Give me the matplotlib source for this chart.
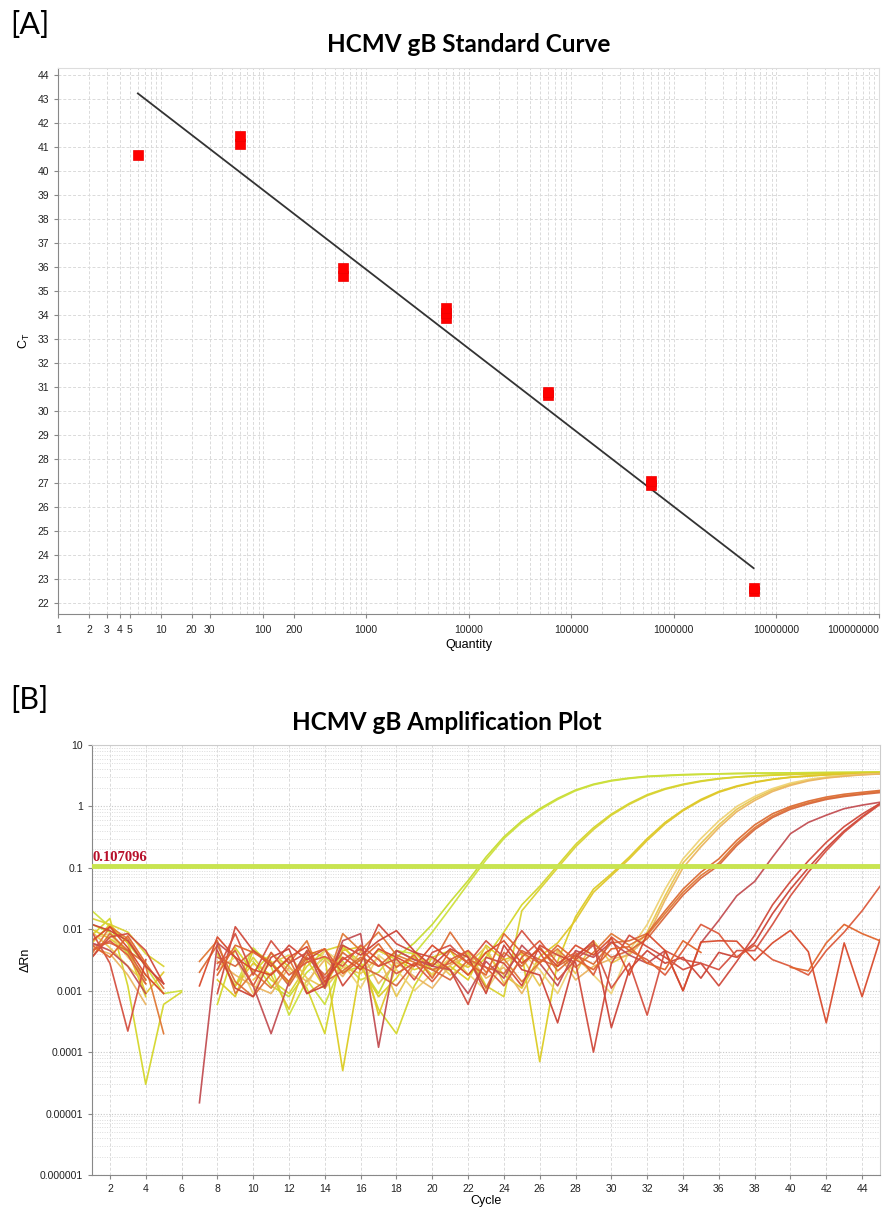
import numpy as np
import matplotlib
matplotlib.use('Agg')
import matplotlib.pyplot as plt
from matplotlib.ticker import FixedLocator, LogLocator, NullFormatter

n = np.nan

# ---- [A] standard curve data ----
std_quantity = [6, 60, 60, 600, 600, 6000, 6000, 6000, 60000, 60000,
                600000, 600000, 6000000, 6000000]
std_ct = [40.67, 41.14, 41.48, 35.64, 35.98, 33.87, 34.08, 34.29, 30.66, 30.80,
          26.92, 27.08, 22.52, 22.65]
fit_quantity = [6, 6000000]
fit_ct = [43.24, 23.46]

x_ticks = [1, 2, 3, 4, 5, 10, 20, 30, 100, 200, 1000, 10000, 100000,
           1000000, 10000000, 100000000]
x_tick_labels = ['1', '2', '3', '4', '5', '10', '20', '30', '100', '200', '1000',
                 '10000', '100000', '1000000', '10000000', '100000000']
y_ticks = list(range(22, 45))

# ---- [B] amplification data (delta Rn per cycle, nan = not plotted) ----
cycles = list(range(1, 46))
threshold = 0.107096

amp_curves = {
    'g1a': [0.012, 0.009, 0.004, 0.0015, n, n, n, n, n, 0.003,
            0.0012, 0.0008, 0.002, 0.0035, 0.002, 0.0025, 0.0009, 0.0035, 0.006, 0.012,
            0.028, 0.062, 0.15, 0.32, 0.58, 0.92, 1.35, 1.85, 2.3, 2.65,
            2.9, 3.1, 3.2, 3.3, 3.35, 3.4, 3.45, 3.48, 3.5, 3.52,
            3.54, 3.56, 3.58, 3.6, 3.62],
    'g1b': [0.02, 0.011, 0.006, 0.0025, 0.0009, 0.001, n, n, 0.0012, 0.005,
            0.0025, 0.0004, 0.0015, 0.0006, 0.003, 0.0015, 0.002, 0.0045, 0.004, 0.009,
            0.022, 0.055, 0.135, 0.3, 0.55, 0.88, 1.3, 1.8, 2.25, 2.6,
            2.85, 3.05, 3.15, 3.25, 3.32, 3.38, 3.42, 3.46, 3.49, 3.52,
            3.54, 3.56, 3.58, 3.6, 3.62],
    'g2a': [0.008, 0.015, 0.0012, 0.00003, 0.0006, 0.00095, n, 0.0006, 0.005, 0.002,
            0.004, 0.0025, 0.0011, 0.0002, 0.005, 0.003, 0.0005, 0.0002, 0.0012, 0.0035,
            0.0045, 0.0018, 0.0035, 0.009, 0.025, 0.05, 0.11, 0.24, 0.45, 0.75,
            1.12, 1.55, 1.95, 2.3, 2.6, 2.85, 3.02, 3.15, 3.25, 3.33,
            3.4, 3.46, 3.5, 3.54, 3.57],
    'g2b': [0.015, 0.012, 0.009, 0.004, 0.0025, n, n, 0.004, 0.0012, 0.0035,
            0.0015, 0.0009, 0.0025, 0.0045, 0.0055, 0.0024, 0.0045, 0.0032, 0.0022, 0.0028,
            0.0021, 0.0042, 0.0012, 0.0008, 0.02, 0.045, 0.1, 0.22, 0.42, 0.72,
            1.08, 1.5, 1.9, 2.25, 2.55, 2.8, 3.0, 3.12, 3.22, 3.3,
            3.38, 3.44, 3.49, 3.53, 3.56],
    'g3a': [0.01, 0.007, 0.0045, 0.0008, n, n, n, 0.0015, 0.0008, 0.0045,
            0.003, 0.0013, 0.0045, 0.0035, 0.00005, 0.0025, 0.0008, 0.0016, 0.0042, 0.0022,
            0.0025, 0.0015, 0.0055, 0.0032, 0.004, 0.00007, 0.003, 0.016, 0.045, 0.08,
            0.15, 0.3, 0.55, 0.88, 1.3, 1.75, 2.15, 2.5, 2.78, 3.0,
            3.15, 3.28, 3.36, 3.42, 3.47],
    'g3b': [0.006, 0.012, 0.006, 0.0009, 0.002, n, n, n, 0.0012, 0.0028,
            0.0018, 0.0005, 0.0032, 0.0011, 0.0045, 0.0052, 0.0004, 0.0025, 0.0035, 0.0018,
            0.0032, 0.0024, 0.0042, 0.0018, 0.0011, 0.0036, 0.006, 0.014, 0.04, 0.075,
            0.14, 0.28, 0.52, 0.85, 1.25, 1.7, 2.1, 2.45, 2.75, 2.97,
            3.12, 3.25, 3.34, 3.4, 3.45],
    'g4a': [0.009, 0.005, 0.0025, 0.0013, n, n, n, n, n, 0.0015,
            0.0028, 0.0038, 0.0016, 0.0011, 0.0024, 0.0019, 0.0035, 0.0008, 0.0026, 0.0034,
            0.0018, 0.0027, 0.0052, 0.0013, 0.0035, 0.0012, 0.0045, 0.0019, 0.0065, 0.0028,
            0.004, 0.009, 0.035, 0.12, 0.25, 0.5, 0.9, 1.35, 1.85, 2.3,
            2.7, 2.95, 3.15, 3.3, 3.4],
    'g4b': [0.007, 0.0085, 0.0035, 0.0018, 0.0009, n, n, 0.0022, 0.0035, 0.0009,
            0.0042, 0.0021, 0.0012, 0.0045, 0.0028, 0.0011, 0.0038, 0.0022, 0.001, 0.0019,
            0.0034, 0.0019, 0.001, 0.0028, 0.0042, 0.0022, 0.0009, 0.0036, 0.0018, 0.0009,
            0.0045, 0.012, 0.045, 0.14, 0.3, 0.58, 1.0, 1.45, 1.95, 2.4,
            2.75, 3.0, 3.2, 3.32, 3.42],
    'g4c': [0.005, 0.004, 0.0018, 0.0006, n, n, n, 0.003, 0.0018, 0.0012,
            0.0009, 0.0024, 0.0014, 0.0032, 0.0017, 0.0044, 0.0013, 0.0029, 0.0017, 0.0011,
            0.0026, 0.0038, 0.0016, 0.0024, 0.0009, 0.003, 0.0041, 0.0015, 0.0025, 0.0033,
            0.0038, 0.0075, 0.03, 0.1, 0.22, 0.45, 0.82, 1.25, 1.75, 2.2,
            2.6, 2.9, 3.1, 3.27, 3.38],
    'g5a': [0.004, 0.011, 0.007, 0.0025, 0.0002, n, 0.003, 0.0065, 0.0009, 0.002,
            0.0011, 0.0028, 0.0065, 0.0012, 0.0085, 0.0045, 0.009, 0.0038, 0.0029, 0.0022,
            0.0028, 0.0045, 0.002, 0.0033, 0.0014, 0.0029, 0.0048, 0.0024, 0.0042, 0.0085,
            0.0055, 0.008, 0.018, 0.04, 0.075, 0.12, 0.25, 0.45, 0.7, 0.95,
            1.15, 1.35, 1.5, 1.62, 1.75],
    'g5b': [0.0035, 0.0085, 0.0045, 0.0028, 0.0011, n, 0.002, 0.0055, 0.0014, 0.0008,
            0.0019, 0.0033, 0.0009, 0.0014, 0.0021, 0.0035, 0.0025, 0.0045, 0.0032, 0.0027,
            0.009, 0.0035, 0.0011, 0.0042, 0.0025, 0.0052, 0.0021, 0.0038, 0.0027, 0.006,
            0.0065, 0.0085, 0.02, 0.045, 0.085, 0.14, 0.28, 0.5, 0.76, 1.0,
            1.22, 1.42, 1.58, 1.7, 1.82],
    'g5c': [0.0055, 0.006, 0.0045, 0.0015, n, n, n, 0.0035, 0.0025, 0.0045,
            0.0028, 0.0012, 0.0035, 0.0018, 0.0042, 0.0025, 0.0018, 0.0012, 0.0028, 0.0022,
            0.0015, 0.0032, 0.0024, 0.0019, 0.0045, 0.0032, 0.0025, 0.0038, 0.0058, 0.0035,
            0.0045, 0.007, 0.016, 0.036, 0.068, 0.11, 0.23, 0.42, 0.66, 0.9,
            1.1, 1.3, 1.45, 1.57, 1.68],
    'g6': [0.006, 0.0045, 0.0025, 0.0009, n, n, 0.000015, 0.006, 0.0035, 0.0012,
           0.0002, 0.0014, 0.0045, 0.0011, 0.0065, 0.0085, 0.00012, 0.0045, 0.0032, 0.0025,
           0.0022, 0.0009, 0.003, 0.0016, 0.0055, 0.0028, 0.0012, 0.0045, 0.0035, 0.0062,
           0.0038, 0.0028, 0.0045, 0.001, 0.006, 0.014, 0.035, 0.06, 0.15, 0.36,
           0.55, 0.72, 0.92, 1.05, 1.17],
    'g7a': [0.0035, 0.0075, 0.0085, 0.0045, 0.0013, n, n, 0.0009, 0.011, 0.0045,
            0.0025, 0.0055, 0.0032, 0.0048, 0.0012, 0.0028, 0.012, 0.0058, 0.0042, 0.0035,
            0.0022, 0.0006, 0.0035, 0.0028, 0.0012, 0.0055, 0.0038, 0.0029, 0.0001, 0.0028,
            0.008, 0.0052, 0.0035, 0.0022, 0.0028, 0.0012, 0.003, 0.008, 0.025, 0.06,
            0.13, 0.26, 0.47, 0.75, 1.12],
    'g7b': [0.012, 0.0095, 0.0065, 0.0025, 0.0013, n, n, 0.0045, 0.0011, 0.0008,
            0.0035, 0.0048, 0.0009, 0.0012, 0.0055, 0.0038, 0.0065, 0.0095, 0.0044, 0.0025,
            0.0048, 0.0035, 0.0009, 0.0055, 0.0022, 0.0018, 0.0003, 0.0035, 0.0065, 0.00025,
            0.0022, 0.0045, 0.0028, 0.0035, 0.0016, 0.0042, 0.0035, 0.006, 0.018, 0.045,
            0.1, 0.21, 0.4, 0.68, 1.1],
    'g7c': [0.009, 0.0028, 0.00022, 0.0032, n, n, n, 0.0022, 0.0085, 0.0018,
            0.0065, 0.0028, 0.0042, 0.0016, 0.0032, 0.0048, 0.0025, 0.0033, 0.0015, 0.0042,
            0.0055, 0.0028, 0.0065, 0.0035, 0.0095, 0.0042, 0.0015, 0.0032, 0.0055, 0.0011,
            0.0028, 0.0004, 0.0045, 0.0032, 0.0028, 0.0022, 0.0045, 0.0045, 0.012, 0.035,
            0.085, 0.19, 0.38, 0.66, 1.08],
    'g8': [0.0045, 0.0065, 0.0038, 0.0013, n, n, n, 0.0028, 0.0045, 0.0012,
           0.0042, 0.0018, 0.0029, 0.0036, 0.0025, 0.0055, 0.0032, 0.0019, 0.0028, 0.0014,
           0.0032, 0.0045, 0.0024, 0.0012, 0.0035, 0.0065, 0.0028, 0.0042, 0.0018, 0.0075,
           0.0045, 0.0032, 0.0018, 0.0045, 0.012, 0.0085, 0.0035, 0.0055, 0.0032, 0.0025,
           0.0018, 0.0045, 0.009, 0.02, 0.05],
    'ntc1': [0.0065, 0.011, 0.005, 0.0018, 0.0009, n, 0.0012, 0.0075, 0.0035, 0.0022,
             0.0018, 0.0035, 0.0052, 0.0014, 0.0035, 0.0022, 0.0048, 0.0035, 0.0025, 0.0055,
             0.0032, 0.0018, 0.0042, 0.0065, 0.0028, 0.0048, 0.0025, 0.0055, 0.0038, 0.0072,
             0.0018, 0.0085, 0.0045, 0.001, 0.0062, 0.0065, 0.0064, 0.0031, 0.006, 0.0096,
             0.0043, 0.0003, 0.006, 0.0008, 0.0068],
    'ntc2': [0.0055, 0.0035, 0.0078, 0.0028, n, n, n, 0.0018, 0.0055, 0.0042,
             0.0028, 0.0014, 0.0038, 0.0048, 0.0019, 0.0032, 0.0058, 0.0024, 0.0038, 0.0016,
             0.0045, 0.0028, 0.0018, 0.0085, 0.0042, 0.0028, 0.0055, 0.0032, 0.0022, 0.0048,
             0.0052, 0.0028, 0.0022, 0.0065, 0.0042, n, n, n, n, 0.0024,
             0.0021, 0.006, 0.012, 0.0085, 0.0065],
}

curve_colors = {
    'g1a': '#c6dc30', 'g1b': '#cde03c', 'g2a': '#d4d62a', 'g2b': '#d9d232',
    'g3a': '#dccc22', 'g3b': '#e0c62a', 'g4a': '#e8c64e', 'g4b': '#eed274',
    'g4c': '#eab460', 'g5a': '#e07834', 'g5b': '#dc6c34', 'g5c': '#d8663a',
    'g6': '#c24e52', 'g7a': '#d04a3c', 'g7b': '#cc4438', 'g7c': '#d45040',
    'g8': '#dc5a3c', 'ntc1': '#d84a2c', 'ntc2': '#e0642c',
}

title_font = 'Lato'
tick_font = 'Liberation Sans'

fig = plt.figure(figsize=(8.89, 12.07), dpi=100)

# ================= [A] =================
ax1 = fig.add_axes([58 / 889, 1 - 614 / 1207, 821 / 889, 546 / 1207])
ax1.set_xscale('log')
ax1.plot(fit_quantity, fit_ct, color='#333333', lw=1.3, zorder=3)
ax1.plot(std_quantity, std_ct, 's', color='#ff0000', ms=7.5, mec='#ee0000',
         mew=0.5, zorder=4)
ax1.set_xlim(1, 1e8)
ax1.set_ylim(21.55, 44.3)
ax1.xaxis.set_major_locator(FixedLocator(x_ticks))
ax1.set_xticklabels(x_tick_labels)
ax1.xaxis.set_minor_locator(LogLocator(base=10, subs=np.arange(1, 10), numticks=20))
ax1.xaxis.set_minor_formatter(NullFormatter())
ax1.set_yticks(y_ticks)
ax1.grid(which='both', axis='x', color='#dadada', ls=(0, (3, 2)), lw=0.7)
ax1.grid(which='major', axis='y', color='#dadada', ls=(0, (3, 2)), lw=0.7)
ax1.tick_params(axis='both', which='major', labelsize=7.5, length=3, color='#888888')
ax1.tick_params(axis='x', which='minor', length=0)
ax1.tick_params(axis='x', which='major', pad=5)
for lab in ax1.get_xticklabels() + ax1.get_yticklabels():
    lab.set_fontfamily(tick_font)
    lab.set_color('#222222')
# the last label sits at the right edge of the figure
ax1.get_xticklabels()[-1].set_horizontalalignment('right')
for s in ['left', 'bottom']:
    ax1.spines[s].set_color('#888888')
for s in ['top', 'right']:
    ax1.spines[s].set_color('#dddddd')
ax1.set_xlabel('Quantity', fontsize=9, family=tick_font, labelpad=3)
ax1.set_ylabel('C$_{\\mathregular{T}}$', fontsize=9, family=tick_font, labelpad=4)

fig.text(469 / 889, 1 - 45 / 1207, 'HCMV gB Standard Curve', ha='center', va='center',
         fontsize=17.5, fontweight='bold', family=title_font)
fig.text(10 / 889, 1 - 25 / 1207, '[A]', ha='left', va='center', fontsize=22,
         family=title_font)

# ================= [B] =================
ax2 = fig.add_axes([92 / 889, 1 - 1175 / 1207, 788 / 889, 430 / 1207])
ax2.set_yscale('log')
for name, vals in amp_curves.items():
    ax2.plot(cycles, vals, color=curve_colors[name], lw=1.2, alpha=0.95)
ax2.axhline(threshold, color='#c8e450', lw=3.5, zorder=5)
ax2.text(1.05, threshold * 1.06, '%.6f' % threshold, color='#b8102a', fontsize=10.5,
         fontweight='bold', family='Liberation Serif', va='bottom', ha='left', zorder=6)
ax2.set_xlim(1, 45)
ax2.set_ylim(1e-6, 10)
ax2.set_xticks(range(2, 45, 2))
ax2.set_yticks([1e-6, 1e-5, 1e-4, 1e-3, 1e-2, 1e-1, 1, 10])
ax2.set_yticklabels(['0.000001', '0.00001', '0.0001', '0.001', '0.01', '0.1', '1', '10'])
ax2.yaxis.set_minor_locator(LogLocator(base=10, subs=np.arange(2, 10), numticks=20))
ax2.yaxis.set_minor_formatter(NullFormatter())
ax2.grid(which='major', axis='x', color='#dadada', ls=(0, (3, 2)), lw=0.7)
ax2.grid(which='major', axis='y', color='#c8c8c8', ls=(0, (1, 1.5)), lw=0.8)
ax2.grid(which='minor', axis='y', color='#dcdcdc', ls=(0, (1, 1.5)), lw=0.7)
ax2.tick_params(axis='both', which='major', labelsize=7.5, length=3, color='#888888')
ax2.tick_params(axis='y', which='minor', length=0)
for lab in ax2.get_xticklabels() + ax2.get_yticklabels():
    lab.set_fontfamily(tick_font)
    lab.set_color('#222222')
for s in ['left', 'bottom']:
    ax2.spines[s].set_color('#888888')
for s in ['top', 'right']:
    ax2.spines[s].set_color('#cccccc')
ax2.set_xlabel('Cycle', fontsize=9, family=tick_font, labelpad=1)
ax2.set_ylabel('\u0394Rn', fontsize=9, family=tick_font, labelpad=6)

fig.text(447 / 889, 1 - 722 / 1207, 'HCMV gB Amplification Plot', ha='center', va='center',
         fontsize=17.5, fontweight='bold', family=title_font)
fig.text(10 / 889, 1 - 700 / 1207, '[B]', ha='left', va='center', fontsize=22,
         family=title_font)

fig.savefig('out.png', dpi=100)
